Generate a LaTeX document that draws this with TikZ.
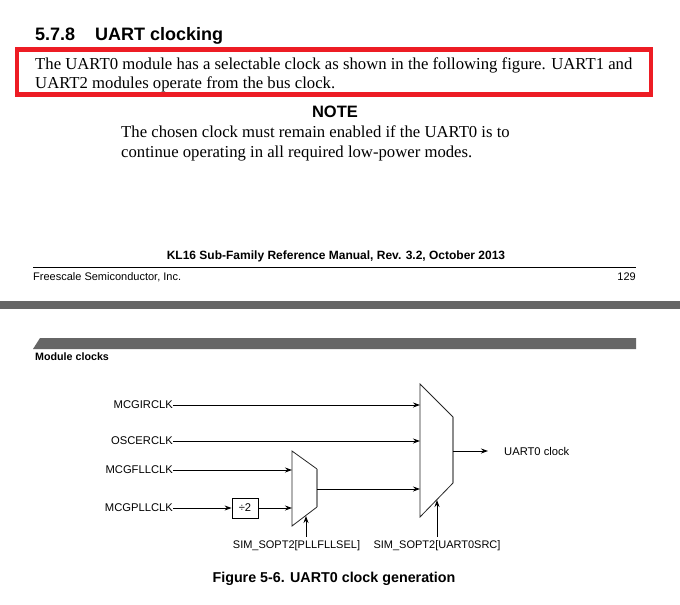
\documentclass[tikz,border=0pt]{standalone}
\usepackage{fontspec}
\setmainfont{Liberation Serif}
\setsansfont{Liberation Sans}
\usetikzlibrary{arrows.meta}
\definecolor{redbox}{HTML}{ED1C24}
\definecolor{band}{HTML}{666666}
\begin{document}
\begin{tikzpicture}[x=1pt,y=1pt,
  every node/.style={inner sep=0pt},
  lab/.style={font=\sffamily\fontsize{11.2}{13}\selectfont},
  sellab/.style={font=\sffamily\fontsize{11}{13}\selectfont, anchor=base},
  arr/.style={line width=0.9pt,-{Stealth[length=7pt,width=5pt]}},
  mux/.style={line width=0.8pt, draw=black!85, line join=miter},
  muxr/.style={line width=1.4pt, draw=black!45},
  body/.style={font=\fontsize{16.7}{19}\selectfont, anchor=base west},
  hdr/.style={font=\sffamily\fontsize{11}{13}\selectfont}
]
\useasboundingbox (0,0) rectangle (680,-605);
\fill[white] (0,0) rectangle (680,-605);

% ---- page top ----
\node[anchor=base west, font=\sffamily\bfseries\fontsize{18}{20}\selectfont] (title) at (35,-40) {5.7.8\hspace{20pt}UART clocking};
\draw[line width=4.5pt, draw=redbox] (17,-49.5) rectangle (651,-94.5);
\node[body] (b1) at (35,-69) {The UART0 module has a selectable clock as shown in the following figure. UART1 and};
\node[body] (b2) at (35,-88) {UART2 modules operate from the bus clock.};
\node[anchor=base, font=\sffamily\bfseries\fontsize{16.5}{19}\selectfont] (note) at (335,-117) {NOTE};
\node[body] (n1) at (121,-137) {The chosen clock must remain enabled if the UART0 is to};
\node[body] (n2) at (121,-157) {continue operating in all required low-power modes.};

% ---- footer ----
\node[anchor=base, font=\sffamily\bfseries\fontsize{12}{14}\selectfont] (kl) at (336,-259) {KL16 Sub-Family Reference Manual, Rev. 3.2, October 2013};
\draw[line width=1pt] (33,-267) -- (636,-267);
\node[hdr, anchor=base west] (fs) at (33,-280) {Freescale Semiconductor, Inc.};
\node[hdr, anchor=base east] (pg) at (636,-280) {129};
\fill[band] (0,-301) rectangle (680,-309);
\fill[band] (40,-338) -- (636,-338) -- (636,-349) -- (33,-349) -- cycle;
\node[font=\sffamily\bfseries\fontsize{10.7}{12}\selectfont, anchor=base west] (mc) at (35,-360) {Module clocks};

% ---- diagram ----
% big mux
\coordinate (B1) at (420,-384);
\coordinate (B2) at (453,-417);
\coordinate (B3) at (453,-483);
\coordinate (B4) at (420,-517);
\draw[mux] (B2) -- (B1) -- (B4) -- (B3);
\draw[muxr] (B2) -- (B3);
% small mux
\coordinate (S1) at (292,-451);
\coordinate (S2) at (317,-469);
\coordinate (S3) at (317,-507);
\coordinate (S4) at (292,-526);
\draw[mux] (S2) -- (S1) -- (S4) -- (S3);
\draw[muxr] (S2) -- (S3);

\coordinate (bin1) at (420,-405);
\coordinate (bin2) at (420,-441);
\coordinate (bin3) at (420,-489);
\coordinate (sin1) at (292,-470);
\coordinate (sin2) at (292,-508);
\coordinate (sout) at (317,-489);
\coordinate (bout) at (453,-451);
\coordinate (oend) at (488,-451);
\coordinate (ssel) at (306,-516);
\coordinate (bsel) at (437,-500);

\node[lab, anchor=east] (irc) at (173,-405) {MCGIRCLK};
\node[lab, anchor=east] (osc) at (173,-441) {OSCERCLK};
\node[lab, anchor=east] (fll) at (173,-470) {MCGFLLCLK};
\node[lab, anchor=east] (pll) at (173,-508) {MCGPLLCLK};
\node[lab, draw, line width=0.8pt, minimum width=26pt, minimum height=20pt] (div) at (245,-508) {÷2};
\node[lab, anchor=west] (uclk) at (504,-451) {UART0 clock};
\node[sellab] (sel1) at (296.5,-548) {SIM\_SOPT2[PLLFLLSEL]};
\node[sellab] (sel2) at (437,-548) {SIM\_SOPT2[UART0SRC]};

\draw[arr] (irc.east) -- (bin1);
\draw[arr] (osc.east) -- (bin2);
\draw[arr] (fll.east) -- (sin1);
\draw[arr] (pll.east) -- (div.west);
\draw[arr] (div.east) -- (sin2);
\draw[arr] (sout) -- (bin3);
\draw[arr] (bout) -- (oend);
\draw[arr] (sel1.north -| ssel) ++(0,3) -- (ssel);
\draw[arr] (sel2.north -| bsel) ++(0,3) -- (bsel);

\node[anchor=base, font=\sffamily\bfseries\fontsize{14.3}{16}\selectfont] (cap) at (334,-582) {Figure 5-6. UART0 clock generation};
\end{tikzpicture}
\end{document}
